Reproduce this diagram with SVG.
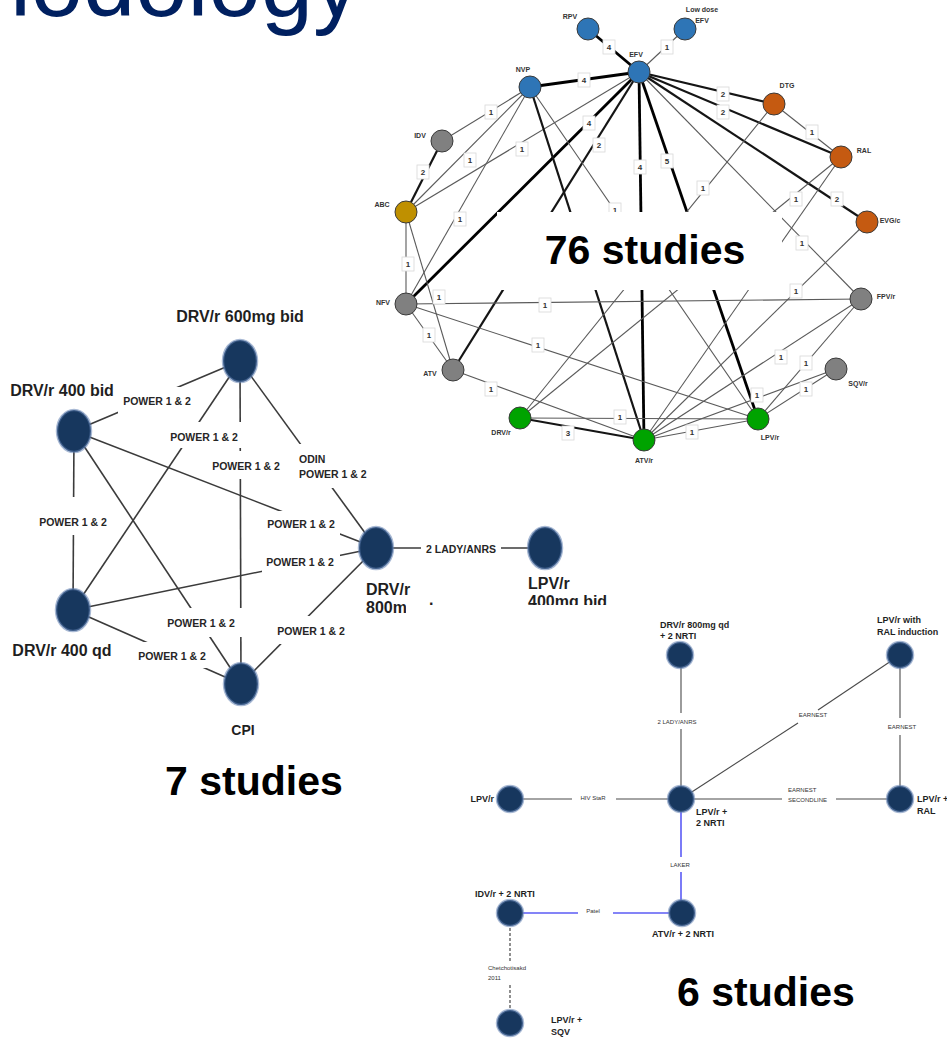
<svg xmlns="http://www.w3.org/2000/svg" width="947" height="1038" viewBox="0 0 947 1038">
<style>
.title{font-family:"Liberation Sans",Arial,sans-serif;font-size:94px;fill:#002060}
.big{font-family:"Liberation Sans",Arial,sans-serif;font-size:41px;font-weight:bold;fill:#000}
.t1{stroke:#5a5a5a;stroke-width:1.1}
.t2{stroke:#151515;stroke-width:2.2}
.t4{stroke:#000;stroke-width:2.8}
.lb rect{fill:#fff;stroke:#d8d8d8;stroke-width:.8}
.lb text{font-family:"Liberation Sans",Arial,sans-serif;font-size:8px;font-weight:bold;fill:#333;text-anchor:middle}
.nl{font-family:"Liberation Sans",Arial,sans-serif;font-size:7px;font-weight:bold;fill:#333;text-anchor:middle}
.nd{stroke:#3a3a3a;stroke-width:1}
.blue{fill:#2e75b6}.orange{fill:#c55a11}.gray{fill:#808080}.gold{fill:#bf9000}.green{fill:#00a300}
.l7{stroke:#3b3b3b;stroke-width:1.6}
.pl rect{fill:#fff}
.pl text{font-family:"Liberation Sans",Arial,sans-serif;font-size:10.5px;font-weight:bold;fill:#262626;text-anchor:middle}
.pl text.st{text-anchor:start}
.en{fill:#17375e;stroke:#6080b0;stroke-opacity:.55;stroke-width:2.5}
.nl2{font-family:"Liberation Sans",Arial,sans-serif;font-size:16px;font-weight:bold;fill:#1f1f1f}
.bg{stroke:#4a4a4a;stroke-width:1.1}
.bb{stroke:#5b5bf5;stroke-width:1.6}
.bd{stroke:#555;stroke-width:1.3;stroke-dasharray:3 2}
.bl{font-family:"Liberation Sans",Arial,sans-serif;font-size:6px;fill:#333}
.bnl{font-family:"Liberation Sans",Arial,sans-serif;font-size:9px;font-weight:bold;fill:#1f1f1f}
</style>

<text class="title" x="360" y="16" text-anchor="end">Methodology</text>

<!-- ================= Top network (76 studies) ================= -->
<g id="connectors-top">
  <line class="t4" x1="588" y1="29" x2="639" y2="72"/>
  <line class="t1" x1="685" y1="29" x2="639" y2="72"/>
  <line class="t4" x1="530" y1="87" x2="639" y2="72"/>
  <line class="t2" x1="639" y1="72" x2="774" y2="104"/>
  <line class="t2" x1="639" y1="72" x2="841" y2="157"/>
  <line class="t2" x1="639" y1="72" x2="867" y2="222"/>
  <line class="t1" x1="639" y1="72" x2="861" y2="299"/>
  <line class="t4" x1="639" y1="72" x2="758" y2="419"/>
  <line class="t4" x1="639" y1="72" x2="644" y2="440"/>
  <line class="t4" x1="639" y1="72" x2="406" y2="304"/>
  <line class="t2" x1="639" y1="72" x2="453" y2="370"/>
  <line class="t1" x1="639" y1="72" x2="406" y2="212"/>
  <line class="t1" x1="442" y1="141" x2="530" y2="87"/>
  <line class="t1" x1="406" y1="212" x2="530" y2="87"/>
  <line class="t1" x1="406" y1="304" x2="530" y2="87"/>
  <line class="t2" x1="530" y1="87" x2="644" y2="440"/>
  <line class="t1" x1="530" y1="87" x2="758" y2="419"/>
  <line class="t2" x1="442" y1="141" x2="406" y2="212"/>
  <line class="t1" x1="406" y1="212" x2="406" y2="304"/>
  <line class="t1" x1="406" y1="212" x2="453" y2="370"/>
  <line class="t1" x1="406" y1="304" x2="453" y2="370"/>
  <line class="t1" x1="406" y1="304" x2="861" y2="299"/>
  <line class="t1" x1="406" y1="304" x2="758" y2="419"/>
  <line class="t1" x1="453" y1="370" x2="644" y2="440"/>
  <line class="t1" x1="520" y1="418" x2="758" y2="419"/>
  <line class="t2" x1="520" y1="418" x2="644" y2="440"/>
  <line class="t1" x1="758" y1="419" x2="644" y2="440"/>
  <line class="t1" x1="774" y1="104" x2="841" y2="157"/>
  <line class="t1" x1="774" y1="104" x2="520" y2="418"/>
  <line class="t1" x1="841" y1="157" x2="520" y2="418"/>
  <line class="t1" x1="841" y1="157" x2="644" y2="440"/>
  <line class="t1" x1="867" y1="222" x2="644" y2="440"/>
  <line class="t1" x1="861" y1="299" x2="644" y2="440"/>
  <line class="t1" x1="861" y1="299" x2="758" y2="419"/>
  <line class="t1" x1="836" y1="369" x2="758" y2="419"/>
  <line class="t1" x1="836" y1="369" x2="644" y2="440"/>
  <g class="lb">
    <rect x="603" y="40" width="12" height="14"/><text x="609" y="50">4</text>
    <rect x="661" y="40" width="12" height="14"/><text x="667" y="50">1</text>
    <rect x="578" y="73" width="12" height="14"/><text x="584" y="83">4</text>
    <rect x="717" y="87" width="12" height="14"/><text x="723" y="97">2</text>
    <rect x="717" y="105" width="12" height="14"/><text x="723" y="115">2</text>
    <rect x="831" y="192" width="12" height="14"/><text x="837" y="202">2</text>
    <rect x="796" y="236" width="12" height="14"/><text x="802" y="246">1</text>
    <rect x="661" y="154" width="12" height="14"/><text x="667" y="164">5</text>
    <rect x="634" y="160" width="12" height="14"/><text x="640" y="170">4</text>
    <rect x="583" y="116" width="12" height="14"/><text x="589" y="126">4</text>
    <rect x="593" y="138" width="12" height="14"/><text x="599" y="148">2</text>
    <rect x="516" y="142" width="12" height="14"/><text x="522" y="152">1</text>
    <rect x="485" y="105" width="12" height="14"/><text x="491" y="115">1</text>
    <rect x="464" y="153" width="12" height="14"/><text x="470" y="163">1</text>
    <rect x="454" y="212" width="12" height="14"/><text x="460" y="222">1</text>
    <rect x="609" y="203" width="12" height="14"/><text x="615" y="213">1</text>
    <rect x="417" y="165" width="12" height="14"/><text x="423" y="175">2</text>
    <rect x="402" y="257" width="12" height="14"/><text x="408" y="267">1</text>
    <rect x="433" y="290" width="12" height="14"/><text x="439" y="300">1</text>
    <rect x="423" y="328" width="12" height="14"/><text x="429" y="338">1</text>
    <rect x="539" y="298" width="12" height="14"/><text x="545" y="308">1</text>
    <rect x="532" y="338" width="12" height="14"/><text x="538" y="348">1</text>
    <rect x="485" y="382" width="12" height="14"/><text x="491" y="392">1</text>
    <rect x="614" y="410" width="12" height="14"/><text x="620" y="420">1</text>
    <rect x="562" y="426" width="12" height="14"/><text x="568" y="436">3</text>
    <rect x="686" y="425" width="12" height="14"/><text x="692" y="435">1</text>
    <rect x="806" y="125" width="12" height="14"/><text x="812" y="135">1</text>
    <rect x="697" y="181" width="12" height="14"/><text x="703" y="191">1</text>
    <rect x="790" y="192" width="12" height="14"/><text x="796" y="202">1</text>
    <rect x="790" y="284" width="12" height="14"/><text x="796" y="294">1</text>
    <rect x="775" y="350" width="12" height="14"/><text x="781" y="360">1</text>
    <rect x="800" y="356" width="12" height="14"/><text x="806" y="366">1</text>
    <rect x="800" y="382" width="12" height="14"/><text x="806" y="392">1</text>
    <rect x="751" y="388" width="12" height="14"/><text x="757" y="398">1</text>
  </g>
</g>

<g id="node-RPV"><circle class="nd blue" cx="588" cy="29" r="11"/><text class="nl" x="570" y="18.5">RPV</text></g>
<g id="node-LowDoseEFV"><circle class="nd blue" cx="685" cy="29" r="11"/><text class="nl" x="702" y="11.5">Low dose</text><text class="nl" x="702" y="22.5">EFV</text></g>
<g id="node-EFV"><circle class="nd blue" cx="639" cy="72" r="11"/><text class="nl" x="636" y="57">EFV</text></g>
<g id="node-NVP"><circle class="nd blue" cx="530" cy="87" r="11"/><text class="nl" x="523" y="71.5">NVP</text></g>
<g id="node-DTG"><circle class="nd orange" cx="774" cy="104" r="11"/><text class="nl" x="787" y="87.5">DTG</text></g>
<g id="node-IDV"><circle class="nd gray" cx="442" cy="141" r="11"/><text class="nl" x="420" y="137.5">IDV</text></g>
<g id="node-RAL"><circle class="nd orange" cx="841" cy="157" r="11"/><text class="nl" x="864" y="152.5">RAL</text></g>
<g id="node-ABC"><circle class="nd gold" cx="406" cy="212" r="11"/><text class="nl" x="382" y="206.5">ABC</text></g>
<g id="node-EVGc"><circle class="nd orange" cx="867" cy="222" r="11"/><text class="nl" x="890" y="223">EVG/c</text></g>
<g id="node-NFV"><circle class="nd gray" cx="406" cy="304" r="11"/><text class="nl" x="383" y="305">NFV</text></g>
<g id="node-FPVr"><circle class="nd gray" cx="861" cy="299" r="11"/><text class="nl" x="886" y="298.5">FPV/r</text></g>
<g id="node-ATV"><circle class="nd gray" cx="453" cy="370" r="11"/><text class="nl" x="430" y="376">ATV</text></g>
<g id="node-SQVr"><circle class="nd gray" cx="836" cy="369" r="11"/><text class="nl" x="858" y="385.5">SQV/r</text></g>
<g id="node-DRVr"><circle class="nd green" cx="520" cy="418" r="11"/><text class="nl" x="501" y="435">DRV/r</text></g>
<g id="node-LPVr"><circle class="nd green" cx="758" cy="419" r="11"/><text class="nl" x="770" y="439.5">LPV/r</text></g>
<g id="node-ATVr"><circle class="nd green" cx="644" cy="440" r="11"/><text class="nl" x="644" y="462.5">ATV/r</text></g>

<g id="caption-76">
  <rect x="497" y="212" width="285" height="78" fill="#fff"/>
  <text class="big" x="645" y="264" text-anchor="middle">76 studies</text>
</g>

<!-- ================= Left network (7 studies) ================= -->
<g id="connectors-left">
  <line class="l7" x1="74" y1="431" x2="240" y2="361"/>
  <line class="l7" x1="74" y1="431" x2="73" y2="610"/>
  <line class="l7" x1="74" y1="431" x2="241" y2="684"/>
  <line class="l7" x1="74" y1="431" x2="376" y2="548"/>
  <line class="l7" x1="240" y1="361" x2="73" y2="610"/>
  <line class="l7" x1="240" y1="361" x2="241" y2="684"/>
  <line class="l7" x1="240" y1="361" x2="376" y2="548"/>
  <line class="l7" x1="73" y1="610" x2="376" y2="548"/>
  <line class="l7" x1="73" y1="610" x2="241" y2="684"/>
  <line class="l7" x1="241" y1="684" x2="376" y2="548"/>
  <line class="l7" x1="376" y1="548" x2="545" y2="548"/>
  <g class="pl">
    <rect x="118" y="387" width="78" height="27"/><text x="157" y="405">POWER 1 &amp; 2</text>
    <rect x="166" y="422" width="77" height="26"/><text x="204" y="441">POWER 1 &amp; 2</text>
    <rect x="208" y="451" width="76" height="28"/><text x="246" y="470">POWER 1 &amp; 2</text>
    <rect x="36" y="497" width="76" height="38"/><text x="73" y="526">POWER 1 &amp; 2</text>
    <rect x="265" y="511" width="75" height="26"/><text x="301" y="528">POWER 1 &amp; 2</text>
    <rect x="294" y="444" width="78" height="44"/><text class="st" x="299" y="463">ODIN</text><text class="st" x="299" y="478">POWER 1 &amp; 2</text>
    <rect x="262" y="549" width="78" height="26"/><text x="300" y="566">POWER 1 &amp; 2</text>
    <rect x="163" y="608" width="80" height="29"/><text x="201" y="627">POWER 1 &amp; 2</text>
    <rect x="132" y="642" width="79" height="26"/><text x="172" y="660">POWER 1 &amp; 2</text>
    <rect x="272" y="616" width="78" height="28"/><text x="311" y="635">POWER 1 &amp; 2</text>
    <rect x="421" y="536" width="80" height="26"/><text x="461" y="553">2 LADY/ANRS</text>
  </g>
</g>

<g id="node-DRVr600"><ellipse class="en" cx="240" cy="361" rx="17" ry="21"/><text class="nl2" x="240" y="322" text-anchor="middle">DRV/r 600mg bid</text></g>
<g id="node-DRVr400bid"><ellipse class="en" cx="74" cy="431" rx="17" ry="21"/><text class="nl2" x="62" y="395.5" text-anchor="middle">DRV/r 400 bid</text></g>
<g id="node-DRVr400qd"><ellipse class="en" cx="73" cy="610" rx="17" ry="21"/><text class="nl2" x="62" y="656" text-anchor="middle">DRV/r 400 qd</text></g>
<g id="node-CPI"><ellipse class="en" cx="241" cy="684" rx="17" ry="21"/><text class="nl2" x="243" y="735" text-anchor="middle" style="font-size:14px">CPI</text></g>
<g id="node-DRVr800"><ellipse class="en" cx="376" cy="548" rx="17" ry="21"/><text class="nl2" x="366" y="595">DRV/r</text><text class="nl2" x="366" y="613">800m</text></g>
<g id="node-LPVr400"><ellipse class="en" cx="545" cy="548" rx="17" ry="21"/><text class="nl2" x="528" y="589">LPV/r</text><text class="nl2" x="528" y="607">400mg bid</text></g>
<text class="nl2" x="429" y="605">.</text>

<text class="big" x="165" y="795">7 studies</text>

<!-- white panel of the lower-right picture -->
<rect x="406" y="605" width="541" height="433" fill="#fff"/>

<!-- ================= Bottom-right network (6 studies) ================= -->
<g id="connectors-bottom">
  <line class="bg" x1="681" y1="655" x2="681" y2="713"/>
  <line class="bg" x1="681" y1="729" x2="681" y2="799"/>
  <line class="bg" x1="900" y1="655" x2="818" y2="710"/>
  <line class="bg" x1="798" y1="723" x2="681" y2="799"/>
  <line class="bg" x1="900" y1="655" x2="900" y2="718"/>
  <line class="bg" x1="900" y1="735" x2="900" y2="799"/>
  <line class="bg" x1="510" y1="799" x2="572" y2="799"/>
  <line class="bg" x1="616" y1="799" x2="681" y2="799"/>
  <line class="bg" x1="681" y1="799" x2="782" y2="799"/>
  <line class="bg" x1="836" y1="799" x2="900" y2="799"/>
  <line class="bb" x1="681" y1="799" x2="681" y2="857"/>
  <line class="bb" x1="681" y1="872" x2="681" y2="913"/>
  <line class="bb" x1="510" y1="913" x2="578" y2="913"/>
  <line class="bb" x1="613" y1="913" x2="682" y2="913"/>
  <line class="bd" x1="510" y1="913" x2="510" y2="962"/>
  <line class="bd" x1="510" y1="985" x2="510" y2="1023"/>
  <text class="bl" x="677" y="724" text-anchor="middle">2 LADY/ANRS</text>
  <text class="bl" x="813" y="717" text-anchor="middle">EARNEST</text>
  <text class="bl" x="902" y="729" text-anchor="middle">EARNEST</text>
  <text class="bl" x="593" y="799.5" text-anchor="middle">HIV StaR</text>
  <text class="bl" x="788" y="792">EARNEST</text>
  <text class="bl" x="788" y="801.5">SECONDLINE</text>
  <text class="bl" x="680" y="866.5" text-anchor="middle">LAKER</text>
  <text class="bl" x="593" y="913" text-anchor="middle">Patel</text>
  <text class="bl" x="488" y="970">Chetchotisakd</text>
  <text class="bl" x="488" y="979.5">2011</text>
</g>

<g id="node-DRVr800NRTI"><circle class="en" cx="680" cy="655" r="13"/><text class="bnl" x="660" y="628">DRV/r 800mg qd</text><text class="bnl" x="660" y="639">+ 2 NRTI</text></g>
<g id="node-LPVrRALind"><circle class="en" cx="900" cy="655" r="13"/><text class="bnl" x="877" y="623">LPV/r with</text><text class="bnl" x="877" y="635">RAL induction</text></g>
<g id="node-LPVr"><circle class="en" cx="510" cy="799" r="13"/><text class="bnl" x="494" y="802" text-anchor="end">LPV/r</text></g>
<g id="node-LPVr2NRTI"><circle class="en" cx="681" cy="799" r="13"/><text class="bnl" x="696" y="814.5">LPV/r +</text><text class="bnl" x="696" y="825.5">2 NRTI</text></g>
<g id="node-LPVrRAL"><circle class="en" cx="900" cy="799" r="13"/><text class="bnl" x="917" y="802">LPV/r +</text><text class="bnl" x="917" y="814">RAL</text></g>
<g id="node-IDVr2NRTI"><circle class="en" cx="510" cy="913" r="13"/><text class="bnl" x="505" y="897" text-anchor="middle">IDV/r + 2 NRTI</text></g>
<g id="node-ATVr2NRTI"><circle class="en" cx="682" cy="913" r="13"/><text class="bnl" x="683" y="937" text-anchor="middle">ATV/r + 2 NRTI</text></g>
<g id="node-LPVrSQV"><circle class="en" cx="510" cy="1023" r="13"/><text class="bnl" x="551" y="1023">LPV/r +</text><text class="bnl" x="551" y="1034.5">SQV</text></g>

<text class="big" x="677" y="1006">6 studies</text>
</svg>
